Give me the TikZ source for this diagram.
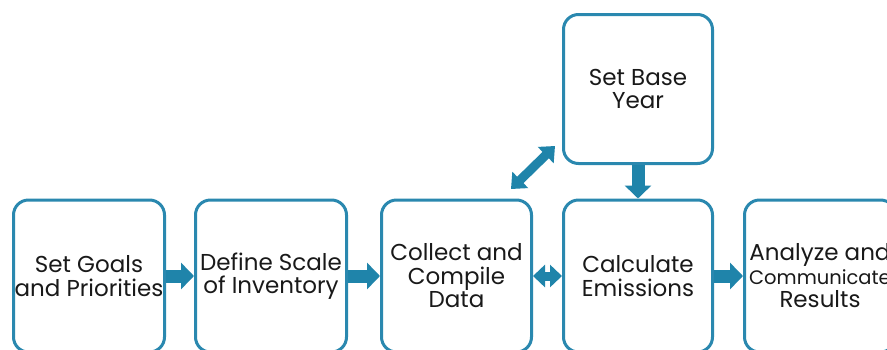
\documentclass[tikz,border=0pt]{standalone}
\usepackage{fontspec}
\setmainfont{Poppins}
\usetikzlibrary{arrows.meta,calc}
\definecolor{stepblue}{HTML}{2A88AF}
\definecolor{arrowblue}{HTML}{1F84AA}
\begin{document}
\begin{tikzpicture}[x=1pt,y=-1pt,
  stepbox/.style={draw=stepblue, line width=3pt, rounded corners=15pt, fill=white,
    minimum width=151pt, align=center, inner sep=0pt,
    font=\fontsize{23}{23.5}\selectfont, text=black!90},
  flow/.style={draw=arrowblue, line width=13pt,
    -{Triangle[width=26pt,length=13pt]}},
  flowtwo/.style={draw=arrowblue, line width=9pt,
    {Triangle[width=22pt,length=12pt]}-{Triangle[width=22pt,length=12pt]}},
  flowdiag/.style={draw=arrowblue, line width=9pt,
    {Triangle[width=22pt,length=13pt]}-{Triangle[width=22pt,length=13pt]}}]
\useasboundingbox (0,0) rectangle (887,349);
\clip (0,0) rectangle (887,349);
\fill[white] (0,0) rectangle (887,349);

% bottom row of steps
\node[stepbox, minimum height=152pt] (b1) at (89,276) {Set Goals\\and Priorities};
\node[stepbox, minimum height=152pt] (b2) at (271,276) {Define Scale\\of Inventory};
\node[stepbox, minimum height=152pt, minimum width=150pt] (b3) at (456.5,276) {Collect and\\Compile\\Data};
\node[stepbox, minimum height=152pt, minimum width=149pt] (b4) at (638,276) {Calculate\\Emissions};
\node[stepbox, minimum height=152pt] (b5) at (820,276)
  {Analyze and\\{\fontsize{19.5}{23.5}\selectfont Communicate}\\Results};
% base year step above
\node[stepbox, minimum height=149pt, minimum width=149pt] (top) at (638,89) {Set Base\\Year};

% connectors
\draw[flow] (b1.east) -- (b2.west);
\draw[flow] (b2.east) -- (b3.west);
\draw[flow] (b4.east) -- (b5.west);
\draw[flow] (top.south) -- (b4.north);
\draw[flowtwo] (b3.east) -- (b4.west);
\coordinate (dlo) at (511,189);
\coordinate (dhi) at (555,146);
\draw[flowdiag] (dlo) -- (dhi);
\end{tikzpicture}
\end{document}
